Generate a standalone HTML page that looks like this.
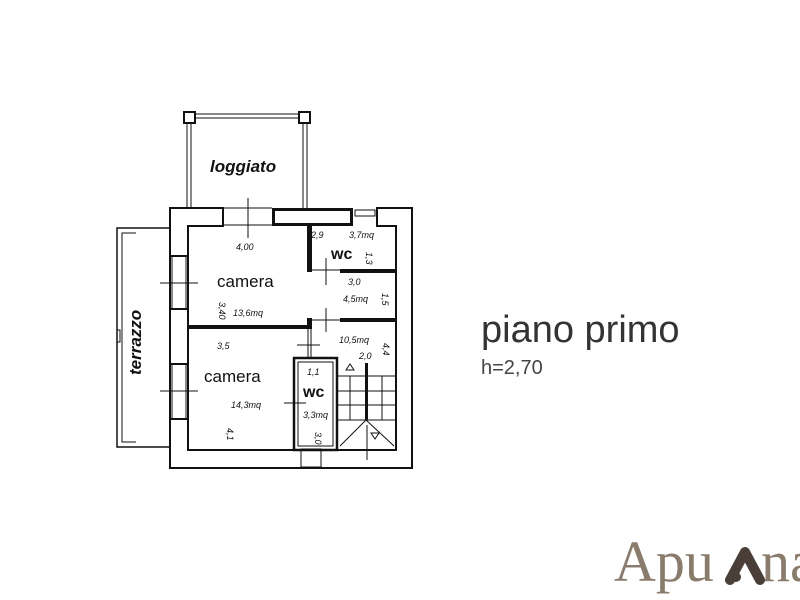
<!DOCTYPE html>
<html><head><style>
html,body{margin:0;padding:0;background:#fff;width:800px;height:600px;overflow:hidden}
svg{position:absolute;left:0;top:0}
.s{font-family:"Liberation Sans",sans-serif}
.logo{font-family:"Liberation Serif",serif}
</style></head><body>
<svg width="800" height="600" viewBox="0 0 800 600">
<g fill="none" stroke="#111">
<rect x="184" y="112" width="11" height="11" stroke-width="2"/>
<rect x="299" y="112" width="11" height="11" stroke-width="2"/>
<line x1="195" y1="114" x2="299" y2="114" stroke-width="1"/>
<line x1="195" y1="118" x2="299" y2="118" stroke-width="1"/>
<line x1="187" y1="123" x2="187" y2="208" stroke-width="1"/>
<line x1="191" y1="123" x2="191" y2="208" stroke-width="1"/>
<line x1="303" y1="123" x2="303" y2="208" stroke-width="1"/>
<line x1="307" y1="123" x2="307" y2="208" stroke-width="1"/>
<path d="M170 228 H117 V447 H170" stroke-width="1.5"/>
<path d="M136 233 H122 V442 H136" stroke-width="1"/>
<rect x="117" y="330" width="3" height="12" stroke-width="1"/>
</g>
<path d="M170 208 H223 V226 H188 V450 H396 V226 H377 V208 H412 V468 H170 Z" fill="#fff" stroke="#111" stroke-width="2"/>
<g fill="#111">
<rect x="272" y="208" width="81" height="3"/>
<rect x="272" y="208" width="3" height="18"/>
<rect x="272" y="223" width="81" height="3"/>
<rect x="350" y="208" width="3" height="18"/>
</g>
<g stroke="#111" fill="none">
<line x1="223" y1="208" x2="272" y2="208" stroke-width="1"/>
<line x1="223" y1="225" x2="272" y2="225" stroke-width="1"/>
<rect x="355" y="210" width="20" height="6" stroke-width="1"/>
</g>
<rect x="171" y="256" width="16" height="53" fill="#fff"/>
<rect x="171" y="364" width="16" height="55" fill="#fff"/>
<g stroke="#111" stroke-width="1">
<line x1="172" y1="256" x2="172" y2="309"/><line x1="186" y1="256" x2="186" y2="309"/>
<line x1="172" y1="364" x2="172" y2="419"/><line x1="186" y1="364" x2="186" y2="419"/>
<line x1="170" y1="256" x2="188" y2="256" stroke-width="2"/><line x1="170" y1="309" x2="188" y2="309" stroke-width="2"/>
<line x1="170" y1="364" x2="188" y2="364" stroke-width="2"/><line x1="170" y1="419" x2="188" y2="419" stroke-width="2"/>
</g>
<rect x="301" y="449" width="20" height="18" fill="#fff" stroke="#111" stroke-width="1"/>
<g fill="#111">
<rect x="307" y="226" width="5" height="46"/>
<rect x="340" y="269" width="56" height="4"/>
<rect x="340" y="318" width="56" height="4"/>
<rect x="188" y="325" width="122" height="4"/>
<rect x="307" y="318" width="5" height="11"/>
<rect x="365" y="363" width="3" height="57"/>
</g>
<g stroke="#111" fill="none">
<line x1="312" y1="270" x2="340" y2="270" stroke-width="1"/>
<line x1="312" y1="320" x2="340" y2="320" stroke-width="1"/>
<line x1="308" y1="329" x2="308" y2="358" stroke-width="1"/>
<line x1="311" y1="329" x2="311" y2="358" stroke-width="1"/>
<rect x="294" y="358" width="43" height="92" stroke-width="2.5"/>
<rect x="298" y="362" width="35" height="84" stroke-width="1"/>
<line x1="338" y1="376" x2="396" y2="376" stroke-width="1"/>
<line x1="338" y1="391" x2="396" y2="391" stroke-width="1"/>
<line x1="338" y1="405" x2="396" y2="405" stroke-width="1"/>
<line x1="338" y1="420" x2="396" y2="420" stroke-width="1"/>
<line x1="350" y1="376" x2="350" y2="420" stroke-width="1"/>
<line x1="382" y1="376" x2="382" y2="420" stroke-width="1"/>
<line x1="366" y1="420" x2="340" y2="446" stroke-width="1"/>
<line x1="366" y1="420" x2="394" y2="446" stroke-width="1"/>
<path d="M346 370 l4 -6 l4 6 z" stroke-width="1"/>
<path d="M371 433 l4 6 l4 -6 z" stroke-width="1"/>
<g stroke-width="1">
<line x1="248" y1="198" x2="248" y2="238"/>
<line x1="160" y1="283" x2="198" y2="283"/>
<line x1="160" y1="391" x2="198" y2="391"/>
<line x1="326" y1="258" x2="326" y2="285"/>
<line x1="326" y1="308" x2="326" y2="332"/>
<line x1="297" y1="345" x2="320" y2="345"/>
<line x1="284" y1="403" x2="306" y2="403"/>
<line x1="367" y1="425" x2="367" y2="460"/>
</g>
</g>
<g fill="#111" class="s">
<text class="s" x="210" y="172" font-size="17" font-weight="bold" font-style="italic">loggiato</text>
<text class="s" x="217" y="287" font-size="17">camera</text>
<text class="s" x="204" y="382" font-size="17">camera</text>
<text class="s" x="331" y="259" font-size="16" font-weight="bold">wc</text>
<text class="s" x="303" y="397" font-size="16" font-weight="bold">wc</text>
<g font-size="9" font-style="italic">
<text class="s" x="236" y="250">4,00</text>
<text class="s" x="233" y="316">13,6mq</text>
<text class="s" x="311" y="238">2,9</text>
<text class="s" x="349" y="238">3,7mq</text>
<text class="s" x="348" y="285">3,0</text>
<text class="s" x="343" y="302">4,5mq</text>
<text class="s" x="339" y="343">10,5mq</text>
<text class="s" x="359" y="359">2,0</text>
<text class="s" x="217" y="349">3,5</text>
<text class="s" x="231" y="408">14,3mq</text>
<text class="s" x="307" y="375">1,1</text>
<text class="s" x="303" y="418">3,3mq</text>
<text class="s" transform="translate(219,302) rotate(90)">3,40</text>
<text class="s" transform="translate(366,252) rotate(90)">1,3</text>
<text class="s" transform="translate(382,293) rotate(90)">1,5</text>
<text class="s" transform="translate(383,343) rotate(90)">4,4</text>
<text class="s" transform="translate(227,428) rotate(90)">4,1</text>
<text class="s" transform="translate(315,432) rotate(90)">3,0</text>
</g>
<text class="s" transform="translate(141,375) rotate(-90)" font-size="17" font-weight="bold" font-style="italic">terrazzo</text>
</g>
<text class="s" x="481" y="342" font-size="38" fill="#333">piano primo</text>
<text class="s" x="481" y="374" font-size="20" fill="#444">h=2,70</text>
<text class="logo" x="614" y="581" font-size="58" fill="#8a7c6c">Apu</text>
<text class="logo" x="761" y="581" font-size="58" fill="#8a7c6c">na</text>
<path d="M730 580 L745 552 L760 580" stroke="#4a3e38" stroke-width="10" fill="none" stroke-linecap="round" stroke-linejoin="round"/>
<circle cx="736" cy="577" r="5" fill="#4a3e38"/>
</svg>
</body></html>
